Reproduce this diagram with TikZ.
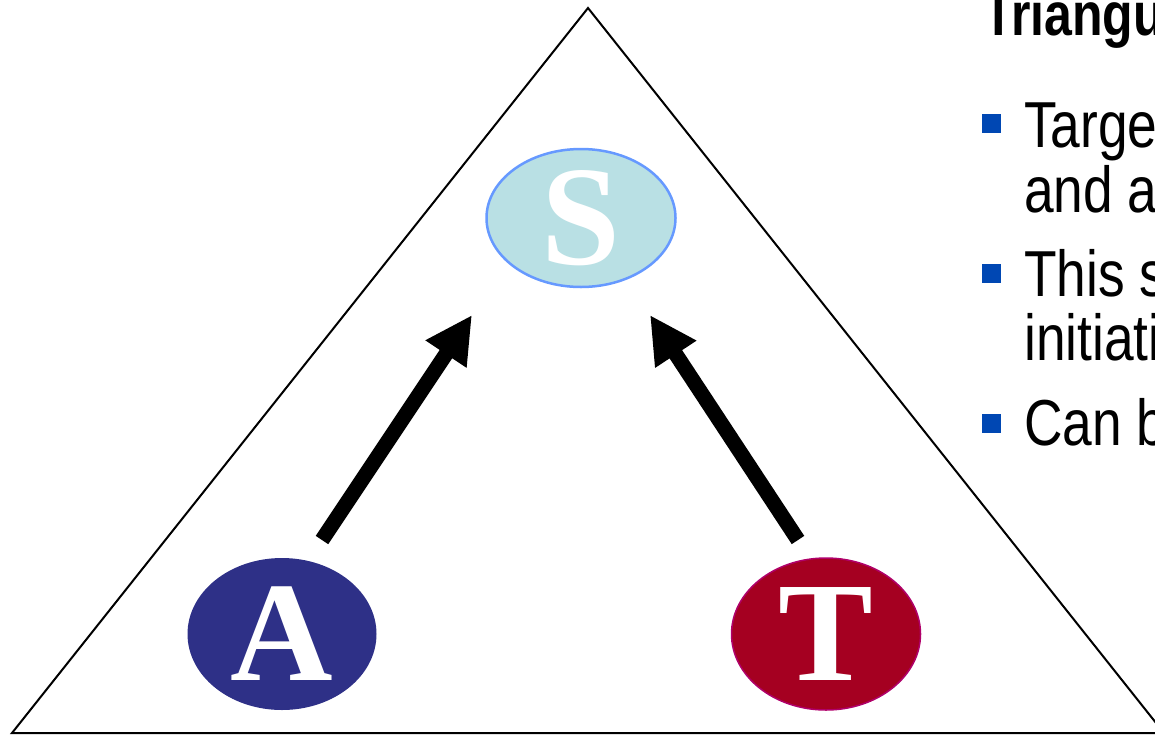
\documentclass[tikz,border=0pt]{standalone}
\usepackage{fontspec}
\setmainfont{Liberation Sans}
\newfontfamily\slidefont[FakeStretch=0.82]{Liberation Sans}
\newfontfamily\letterfont{Liberation Serif}
\usetikzlibrary{arrows.meta, shapes.geometric, positioning}
\definecolor{ovalcyan}{HTML}{B9E0E4}
\definecolor{ovalrim}{HTML}{6699FF}
\definecolor{ovalnavy}{HTML}{2E3087}
\definecolor{ovalred}{HTML}{A50021}
\definecolor{ovalredrim}{HTML}{B0006A}
\definecolor{bulletblue}{HTML}{0047B3}

\tikzset{
  letteroval/.style={ellipse, inner sep=0pt, minimum width=189pt, text=white,
    font=\letterfont\bfseries\fontsize{142}{142}\selectfont},
  bigarrow/.style={line width=15pt, -{Triangle[length=47pt, width=46pt]}},
  bulletsq/.style={fill=bulletblue, minimum size=19pt, inner sep=0pt},
  pointtext/.style={anchor=base west, inner sep=0pt, font=\slidefont\fontsize{65}{65}\selectfont}
}

\begin{document}
\begin{tikzpicture}[x=1pt, y=-1pt]
  \useasboundingbox (0,0) rectangle (1155,736);
  \clip (0,0) rectangle (1155,736);

  % Triangle
  \draw[line width=2pt, line join=miter] (588,8) -- (12,733) -- (1164,733) -- cycle;

  % Ovals
  \node[letteroval, minimum height=138pt, fill=ovalcyan, draw=ovalrim, line width=2.5pt] (S) at (581,218) {S};
  \node[letteroval, minimum height=152pt, fill=ovalnavy] (A) at (282,634) {A};
  \node[letteroval, minimum height=152pt, fill=ovalred, draw=ovalredrim, line width=1.5pt] (T) at (826,634) {T};

  % Arrows
  \coordinate (a tail) at (322,540);
  \coordinate (a tip) at (472,315);
  \coordinate (t tail) at (798,540);
  \coordinate (t tip) at (650,315);
  \draw[bigarrow] (a tail) -- (a tip);
  \draw[bigarrow] (t tail) -- (t tip);

  % Text on the right
  \node[anchor=base west, inner sep=0pt, font=\slidefont\bfseries\fontsize{61}{61}\selectfont] (title) at (983,35) {Triangu};
  \node[bulletsq] (b1) at (991.5,123.5) {};
  \node[pointtext] (l1) at (1024,147) {Targe};
  \node[pointtext] (l2) at (1024,212) {and a};
  \node[bulletsq] (b2) at (991.5,273.5) {};
  \node[pointtext] (l3) at (1024,296) {This s};
  \node[pointtext] (l4) at (1024,360) {initiati};
  \node[bulletsq] (b3) at (991.5,423) {};
  \node[pointtext] (l5) at (1024,445) {Can b};
\end{tikzpicture}
\end{document}
